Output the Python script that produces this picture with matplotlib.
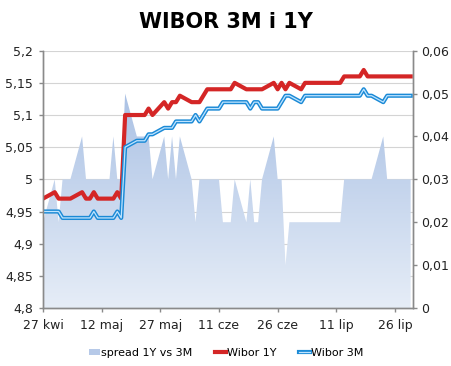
import numpy as np
import pandas as pd
import matplotlib
matplotlib.use('Agg')
import matplotlib.pyplot as plt
import matplotlib.dates as mdates
from matplotlib.colors import LinearSegmentedColormap
from matplotlib.lines import Line2D
from matplotlib.patches import Patch

# dni notowań 27.04 - 30.07
dates = pd.bdate_range('2012-04-27', '2012-07-30')

wibor_1y = [
    4.97, 4.98, 4.97, 4.97, 4.97, 4.97,
    4.98, 4.97, 4.97, 4.98, 4.97,
    4.97, 4.97, 4.98, 4.97, 5.10,
    5.10, 5.10, 5.10, 5.11, 5.10,
    5.12, 5.11, 5.12, 5.12, 5.13,
    5.12, 5.12, 5.12, 5.13, 5.14,
    5.14, 5.14, 5.14, 5.14, 5.15,
    5.14, 5.14, 5.14, 5.14, 5.14,
    5.15, 5.14, 5.15, 5.14, 5.15,
    5.14, 5.15, 5.15, 5.15, 5.15,
    5.15, 5.15, 5.15, 5.15, 5.16,
    5.16, 5.16, 5.17, 5.16, 5.16,
    5.16, 5.16, 5.16, 5.16, 5.16,
    5.16,
]

wibor_3m = [
    4.95, 4.95, 4.95, 4.94, 4.94, 4.94,
    4.94, 4.94, 4.94, 4.95, 4.94,
    4.94, 4.94, 4.95, 4.94, 5.05,
    5.06, 5.06, 5.06, 5.07, 5.07,
    5.08, 5.08, 5.08, 5.09, 5.09,
    5.09, 5.10, 5.09, 5.10, 5.11,
    5.11, 5.12, 5.12, 5.12, 5.12,
    5.12, 5.11, 5.12, 5.12, 5.11,
    5.11, 5.11, 5.12, 5.13, 5.13,
    5.12, 5.13, 5.13, 5.13, 5.13,
    5.13, 5.13, 5.13, 5.13, 5.13,
    5.13, 5.13, 5.14, 5.13, 5.13,
    5.12, 5.13, 5.13, 5.13, 5.13,
    5.13,
]

spread = [
    0.02, 0.03, 0.02, 0.03, 0.03, 0.03,
    0.04, 0.03, 0.03, 0.03, 0.03,
    0.03, 0.04, 0.03, 0.03, 0.05,
    0.04, 0.04, 0.04, 0.04, 0.03,
    0.04, 0.03, 0.04, 0.03, 0.04,
    0.03, 0.02, 0.03, 0.03, 0.03,
    0.03, 0.02, 0.02, 0.02, 0.03,
    0.02, 0.03, 0.02, 0.02, 0.03,
    0.04, 0.03, 0.03, 0.01, 0.02,
    0.02, 0.02, 0.02, 0.02, 0.02,
    0.02, 0.02, 0.02, 0.02, 0.03,
    0.03, 0.03, 0.03, 0.03, 0.03,
    0.04, 0.03, 0.03, 0.03, 0.03,
    0.03,
]

tick_dates = ['2012-04-27', '2012-05-12', '2012-05-27', '2012-06-11',
              '2012-06-26', '2012-07-11', '2012-07-26']
tick_labels = ['27 kwi', '12 maj', '27 maj', '11 cze', '26 cze', '11 lip', '26 lip']

left_ticks = [4.8, 4.85, 4.9, 4.95, 5.0, 5.05, 5.1, 5.15, 5.2]
left_labels = ['4,8', '4,85', '4,9', '4,95', '5', '5,05', '5,1', '5,15', '5,2']
right_ticks = [0, 0.01, 0.02, 0.03, 0.04, 0.05, 0.06]
right_labels = ['0', '0,01', '0,02', '0,03', '0,04', '0,05', '0,06']

axis_col = '#8a8a8a'
red = '#d42626'
blue = '#1b8ad6'

fig = plt.figure(figsize=(4.52, 3.66), dpi=100)
ax = fig.add_axes([0.0951, 0.1585, 0.8186, 0.703])
ax2 = ax.twinx()
ax.set_zorder(ax2.get_zorder() + 1)
ax.patch.set_visible(False)

x = mdates.date2num(dates)
x0 = mdates.date2num(pd.Timestamp('2012-04-27'))
xlim = (x0, x0 + 94.6)

# siatka (wg lewej osi), pod obszarem
for t in left_ticks[1:]:
    ax2.plot([0, 1], [t, t], color='#d4d4d4', lw=0.8,
             transform=ax.get_yaxis_transform(), zorder=0)

# obszar spreadu z gradientem
poly = ax2.fill_between(x, spread, 0, color='none', lw=0)
cmap = LinearSegmentedColormap.from_list('spr', ['#e6edf7', '#9fb9e1'])
grad = np.linspace(1, 0, 256).reshape(-1, 1)
im = ax2.imshow(grad, cmap=cmap, aspect='auto', origin='upper',
                extent=[xlim[0], xlim[1], 0, 0.06], zorder=1)
im.set_clip_path(poly.get_paths()[0], transform=ax2.transData)

# linie
ax.plot(x, wibor_1y, color=red, lw=3.0, solid_joinstyle='round')
ax.plot(x, wibor_3m, color=blue, lw=3.0, solid_joinstyle='round')
ax.plot(x, wibor_3m, color='#bfe4ff', lw=0.9, solid_joinstyle='round')

ax.set_xlim(*xlim)
ax.set_ylim(4.8, 5.2)
ax2.set_xlim(*xlim)
ax2.set_ylim(0, 0.06)

ax.set_xticks(mdates.date2num(pd.to_datetime(tick_dates)))
ax.set_xticklabels(tick_labels)
ax.set_yticks(left_ticks)
ax.set_yticklabels(left_labels)
ax2.set_yticks(right_ticks)
ax2.set_yticklabels(right_labels)

for a in (ax, ax2):
    a.spines['top'].set_visible(False)
    for s in ('left', 'right', 'bottom'):
        a.spines[s].set_color(axis_col)
        a.spines[s].set_linewidth(1.0)
ax.tick_params(axis='both', direction='out', length=3, width=1,
               color=axis_col, labelsize=9, labelcolor='#222222')
ax.tick_params(axis='y', pad=4)
ax.tick_params(axis='x', pad=5)
ax2.tick_params(axis='y', direction='out', length=3, width=1,
                color=axis_col, labelsize=9, labelcolor='#222222', pad=3)

fig.text(0.5, 1 - 22 / 366, 'WIBOR 3M i 1Y', ha='center', va='center',
         fontsize=15, fontweight='bold')

# legenda
handles = [
    Patch(facecolor='#b6c9e8', edgecolor='none'),
    Line2D([], [], color=red, lw=3.0),
    (Line2D([], [], color=blue, lw=3.0), Line2D([], [], color='#bfe4ff', lw=0.9)),
]
labels = ['spread 1Y vs 3M', 'Wibor 1Y', 'Wibor 3M']
fig.legend(handles, labels, loc='center', bbox_to_anchor=(0.5, 1 - 353 / 366),
           ncol=3, frameon=False, fontsize=8, handlelength=1.0,
           handleheight=0.5, handletextpad=0.1, columnspacing=2.0)

fig.savefig('out.png', dpi=100)
